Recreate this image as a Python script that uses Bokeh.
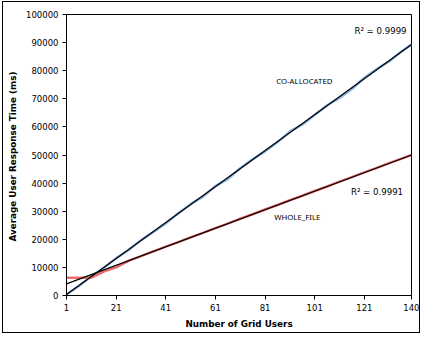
from bokeh.plotting import figure
from bokeh.models import Range1d, FixedTicker, Label
from bokeh.embed import file_html
from bokeh.resources import INLINE

# ---- data ----
users = [1, 6, 11, 16, 21, 26, 31, 36, 41, 46, 51, 56, 61, 66, 71, 76, 81, 86,
         91, 96, 101, 106, 111, 116, 121, 126, 131, 136, 140]
co_allocated = [350, 3400, 6800, 9800, 13300, 16100, 19700, 22600, 25600, 29300,
                32500, 35200, 38900, 41400, 45300, 48500, 51300, 54500, 58400,
                60800, 64200, 67700, 70300, 73500, 77500, 80600, 83300, 86900, 89300]
whole_file = [6300, 6300, 6400, 8500, 10000, 12300, 14000, 15700, 17400, 19000,
              20700, 22300, 24000, 25600, 27300, 28900, 30600, 32200, 33900,
              35500, 37200, 38800, 40500, 42100, 43800, 45400, 47100, 48700, 50000]

trend_x = [1, 140]
co_trend = [350, 89300]
wf_trend = [4160, 50000]

x_ticks = [1, 21, 41, 61, 81, 101, 121, 140]
y_ticks = [0, 10000, 20000, 30000, 40000, 50000, 60000, 70000, 80000, 90000, 100000]
y_tick_labels = ["0", "10000", "20000", "30000", "40000", "50000", "60000",
                 "70000", "80000", "90000", "100000"]

p = figure(width=418, height=332, output_backend="svg", toolbar_location=None,
           x_range=Range1d(1, 140), y_range=Range1d(0, 100000),
           min_border_left=63, min_border_top=12, min_border_right=10,
           min_border_bottom=39)
p.styles = {"border": "1px solid #000000", "margin": "1px 0px 0px 2px"}
p.background_fill_color = "white"
p.border_fill_color = "white"
p.outline_line_color = "black"
p.outline_line_width = 1
p.xgrid.visible = False
p.ygrid.visible = False

p.line(users, co_allocated, line_color="#8DB4E2", line_width=2.5)
p.line(users, whole_file, line_color="#EE6B6B", line_width=2.5)
p.line(trend_x, co_trend, line_color="black", line_width=1.3)
p.line(trend_x, wf_trend, line_color="black", line_width=1.3)

for ax in (p.xaxis[0], p.yaxis[0]):
    ax.axis_line_color = "black"
    ax.major_tick_line_color = "black"
    ax.minor_tick_line_color = None
    ax.major_tick_out = 4
    ax.major_tick_in = 0
    ax.major_label_text_font = "DejaVu Sans"
    ax.major_label_text_font_size = "8.5px"
    ax.major_label_text_color = "black"
    ax.axis_label_text_font = "DejaVu Sans"
    ax.axis_label_text_font_style = "bold"
    ax.axis_label_text_font_size = "8.8px"
    ax.axis_label_text_color = "black"
    ax.major_label_standoff = 4
    ax.axis_label_standoff = 5

p.xaxis.ticker = FixedTicker(ticks=x_ticks)
p.yaxis.ticker = FixedTicker(ticks=y_ticks)
p.yaxis.major_label_overrides = {t: l for t, l in zip(y_ticks, y_tick_labels)}
p.xaxis.axis_label = "Number of Grid Users"
p.yaxis.axis_label = "Average User Response Time  (ms)"

for txt, x, y, font, size in [("R\u00b2 = 0.9999", 117, 94000, "DejaVu Sans", "8.6px"),
                              ("CO-ALLOCATED", 85.5, 76500, "Noto Sans", "7.8px"),
                              ("R\u00b2 = 0.9991", 115.6, 37000, "DejaVu Sans", "8.6px"),
                              ("WHOLE_FILE", 84.7, 27800, "Noto Sans", "7.8px")]:
    p.add_layout(Label(x=x, y=y, text=txt, text_font=font,
                       text_font_size=size, text_baseline="middle",
                       text_align="left", text_color="black"))

open("out.html", "w").write(file_html(p, INLINE))
